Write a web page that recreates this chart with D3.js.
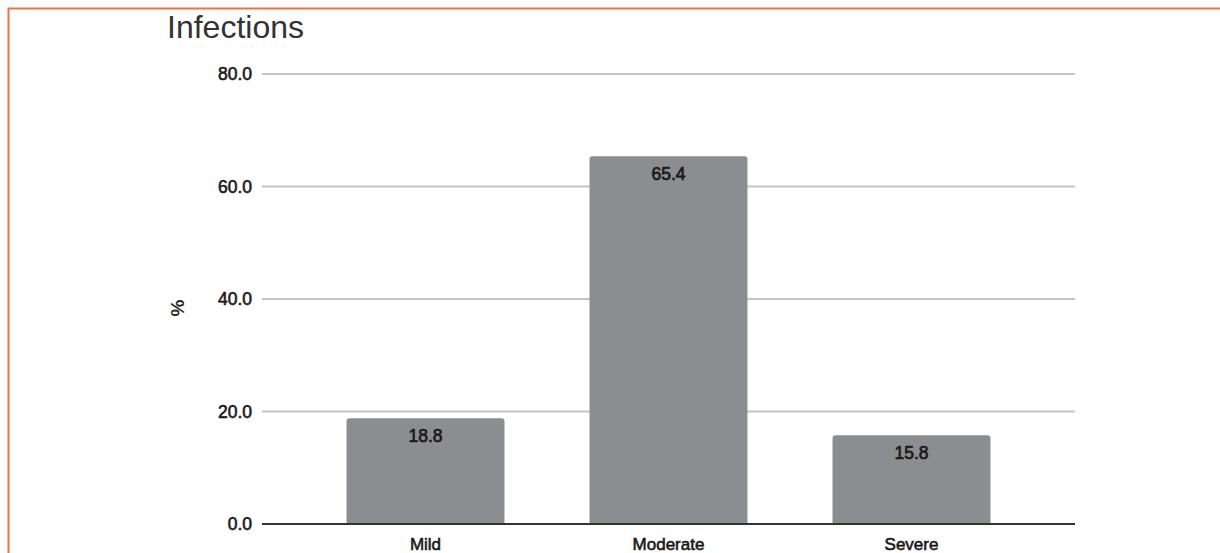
<!DOCTYPE html>
<html><head><meta charset="utf-8">
<script src="https://cdn.jsdelivr.net/npm/d3@7"></script>
<style>html,body{margin:0;padding:0;background:#fff;}</style>
</head><body>
<svg id="c" width="1220" height="553"></svg>
<script>
const categories = ["Mild", "Moderate", "Severe"];
const values = [18.8, 65.4, 15.8];
const yTicks = [0, 20, 40, 60, 80];
const title = "Infections";
const yLabel = "%";

const FONT = "'Liberation Sans', Arial, Helvetica, sans-serif";
const svg = d3.select("#c");
// orange frame
svg.append("line").attr("x1", 8.5).attr("x2", 8.5).attr("y1", 8).attr("y2", 553).attr("stroke", "#f07040").attr("stroke-width", 2);
svg.append("line").attr("x1", 8).attr("x2", 1220).attr("y1", 8.5).attr("y2", 8.5).attr("stroke", "#f07040").attr("stroke-width", 2);

const y = d3.scaleLinear().domain([0, 80]).range([524, 74]);
const x = d3.scaleBand().domain(categories).range([304, 1033]).paddingInner(0.35).paddingOuter(0.175);
const gx0 = 262, gx1 = 1075;

// gridlines
svg.append("g").selectAll("line").data(yTicks.filter(d => d > 0)).join("line")
  .attr("x1", gx0).attr("x2", gx1)
  .attr("y1", d => y(d)).attr("y2", d => y(d))
  .attr("stroke", "#c4c4c6").attr("stroke-width", 2);

// y tick labels
svg.append("g").selectAll("text").data(yTicks).join("text")
  .attr("x", 252).attr("y", d => y(d)).attr("dy", "0.36em")
  .attr("text-anchor", "end")
  .attr("font-family", FONT).attr("font-size", 17.5)
  .attr("fill", "#1a1a1a").attr("stroke", "#1a1a1a").attr("stroke-width", 0.6)
  .text(d => d.toFixed(1));

// bars with rounded top corners
const r = 3;
svg.append("g").selectAll("path").data(values).join("path")
  .attr("d", (d, i) => {
    const x0 = x(categories[i]), w = x.bandwidth(), yt = y(d), yb = y(0);
    return `M${x0},${yb}V${yt + r}Q${x0},${yt} ${x0 + r},${yt}H${x0 + w - r}Q${x0 + w},${yt} ${x0 + w},${yt + r}V${yb}Z`;
  })
  .attr("fill", "#8c8d91");

// value labels
svg.append("g").selectAll("text").data(values).join("text")
  .attr("x", (d, i) => x(categories[i]) + x.bandwidth() / 2)
  .attr("y", d => y(d) + 24)
  .attr("text-anchor", "middle")
  .attr("font-family", FONT).attr("font-size", 17.5)
  .attr("fill", "#1a1a1a").attr("stroke", "#1a1a1a").attr("stroke-width", 0.7)
  .text(d => d.toFixed(1));

// baseline
svg.append("line").attr("x1", gx0).attr("x2", gx1).attr("y1", y(0)).attr("y2", y(0))
  .attr("stroke", "#333").attr("stroke-width", 2);

// category labels
svg.append("g").selectAll("text").data(categories).join("text")
  .attr("x", d => x(d) + x.bandwidth() / 2).attr("y", 550)
  .attr("text-anchor", "middle")
  .attr("font-family", FONT).attr("font-size", 17)
  .attr("fill", "#1a1a1a").attr("stroke", "#1a1a1a").attr("stroke-width", 0.6)
  .text(d => d);

// title
svg.append("text").attr("x", 167).attr("y", 38)
  .attr("font-family", FONT).attr("font-size", 32)
  .attr("fill", "#333").text(title);

// y axis label
svg.append("text").attr("transform", "translate(177,308) rotate(-90)")
  .attr("text-anchor", "middle").attr("dy", "0.35em")
  .attr("font-family", FONT).attr("font-size", 19).attr("font-weight", 700)
  .attr("fill", "#2a2a2a").text(yLabel);
</script>
</body></html>
